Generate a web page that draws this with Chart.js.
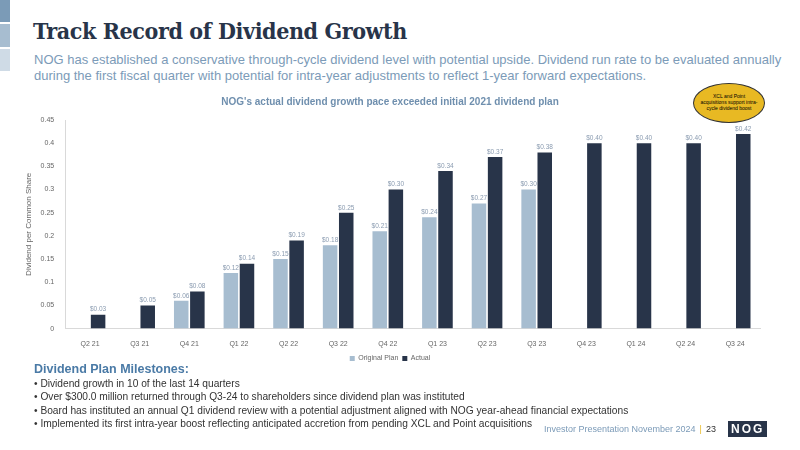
<!DOCTYPE html>
<html><head><meta charset="utf-8">
<script src="https://cdn.jsdelivr.net/npm/chart.js@4"></script>
<style>
body{margin:0;width:800px;height:450px;position:relative;background:#fff;font-family:"Liberation Sans",Arial,sans-serif;overflow:hidden}
.s{position:absolute;left:0;width:10px}
h1{position:absolute;left:33px;top:17px;margin:0;font-family:"DejaVu Serif Condensed","DejaVu Serif",serif;font-weight:bold;font-size:23px;color:#283449;letter-spacing:-0.4px}
.sub{position:absolute;left:34px;top:52px;font-size:13px;line-height:16px;color:#7c9bb8;width:770px}
.ms{position:absolute;left:34px;top:363px;font-size:10.2px;color:#333;line-height:13.2px}
.ms b{color:#4a7aa6;font-size:12.5px;display:block;margin-bottom:1px}
.oval{position:absolute;left:693px;top:83px;width:72px;height:40px;border-radius:50%;background:#e8b923;border:1px solid #333;font-size:5px;text-align:center;line-height:6px;box-sizing:border-box;padding:9px 6px 0}
.ft{position:absolute;left:544px;top:424px;font-size:9px;color:#7c9bb8}
.ft span{color:#e8b923;margin:0 4px}
.ft i{font-style:normal;color:#333}
.logo{position:absolute;left:728px;top:421px;background:#283449;color:#fff;font-weight:bold;font-size:12px;padding:1px 3px;letter-spacing:2px}
#c{position:absolute;left:20px;top:92px}
</style></head><body>
<div class="s" style="top:0;height:22px;background:#7b9bb7"></div>
<div class="s" style="top:24px;height:23px;background:#a7bdd0"></div>
<div class="s" style="top:49px;height:22px;background:#cfdbe6"></div>
<h1>Track Record of Dividend Growth</h1>
<div class="sub">NOG has established a conservative through-cycle dividend level with potential upside. Dividend run rate to be evaluated annually during the first fiscal quarter with potential for intra-year adjustments to reflect 1-year forward expectations.</div>
<div class="oval">XCL and Point acquisitions support intra-cycle dividend boost</div>
<canvas id="c" width="750" height="280"></canvas>
<div class="ms"><b>Dividend Plan Milestones:</b>
• Dividend growth in 10 of the last 14 quarters<br>
• Over $300.0 million returned through Q3-24 to shareholders since dividend plan was instituted<br>
• Board has instituted an annual Q1 dividend review with a potential adjustment aligned with NOG year-ahead financial expectations<br>
• Implemented its first intra-year boost reflecting anticipated accretion from pending XCL and Point acquisitions</div>
<div class="ft">Investor Presentation November 2024<span>|</span><i>23</i></div>
<div class="logo">NOG</div>
<script>
const categories=["Q2 21","Q3 21","Q4 21","Q1 22","Q2 22","Q3 22","Q4 22","Q1 23","Q2 23","Q3 23","Q4 23","Q1 24","Q2 24","Q3 24"];
const originalPlan=[null,null,0.06,0.12,0.15,0.18,0.21,0.24,0.27,0.30,null,null,null,null];
const actual=[0.03,0.05,0.08,0.14,0.19,0.25,0.30,0.34,0.37,0.38,0.40,0.40,0.40,0.42];
const labels={id:'lbl',afterDatasetsDraw(ch){const x=ch.ctx;x.save();x.font='6.5px "Liberation Sans"';x.fillStyle='#8a9bb0';x.textAlign='center';
ch.data.datasets.forEach((d,i)=>{ch.getDatasetMeta(i).data.forEach((b,j)=>{const v=d.data[j];if(v==null)return;x.fillText('$'+v.toFixed(2),b.x,b.y-5);});});x.restore();}};
new Chart(document.getElementById('c'),{type:'bar',data:{labels:categories,datasets:[
{label:'Original Plan',data:originalPlan,backgroundColor:'#a7bdd0',categoryPercentage:0.65,barPercentage:0.9},
{label:'Actual',data:actual,backgroundColor:'#283449',categoryPercentage:0.65,barPercentage:0.9}]},
options:{animation:false,responsive:false,layout:{padding:{right:10}},
plugins:{title:{display:true,text:"NOG's actual dividend growth pace exceeded initial 2021 dividend plan",color:'#6f8fae',font:{size:10,weight:'bold'},padding:{top:4,bottom:12}},
legend:{position:'bottom',labels:{boxWidth:5,boxHeight:5,font:{size:7},color:'#666',padding:4}},tooltip:{enabled:false}},
scales:{x:{grid:{display:false},border:{color:'#d9d9d9'},ticks:{font:{size:7},color:'#666',padding:3}},
y:{min:0,max:0.45,ticks:{stepSize:0.05,font:{size:7},color:'#666',callback:v=>String(+v.toFixed(2))},grid:{display:false},border:{color:'#d9d9d9'},
title:{display:true,text:'Dividend per Common Share',font:{size:8},color:'#666'}}}},plugins:[labels]});
</script></body></html>
